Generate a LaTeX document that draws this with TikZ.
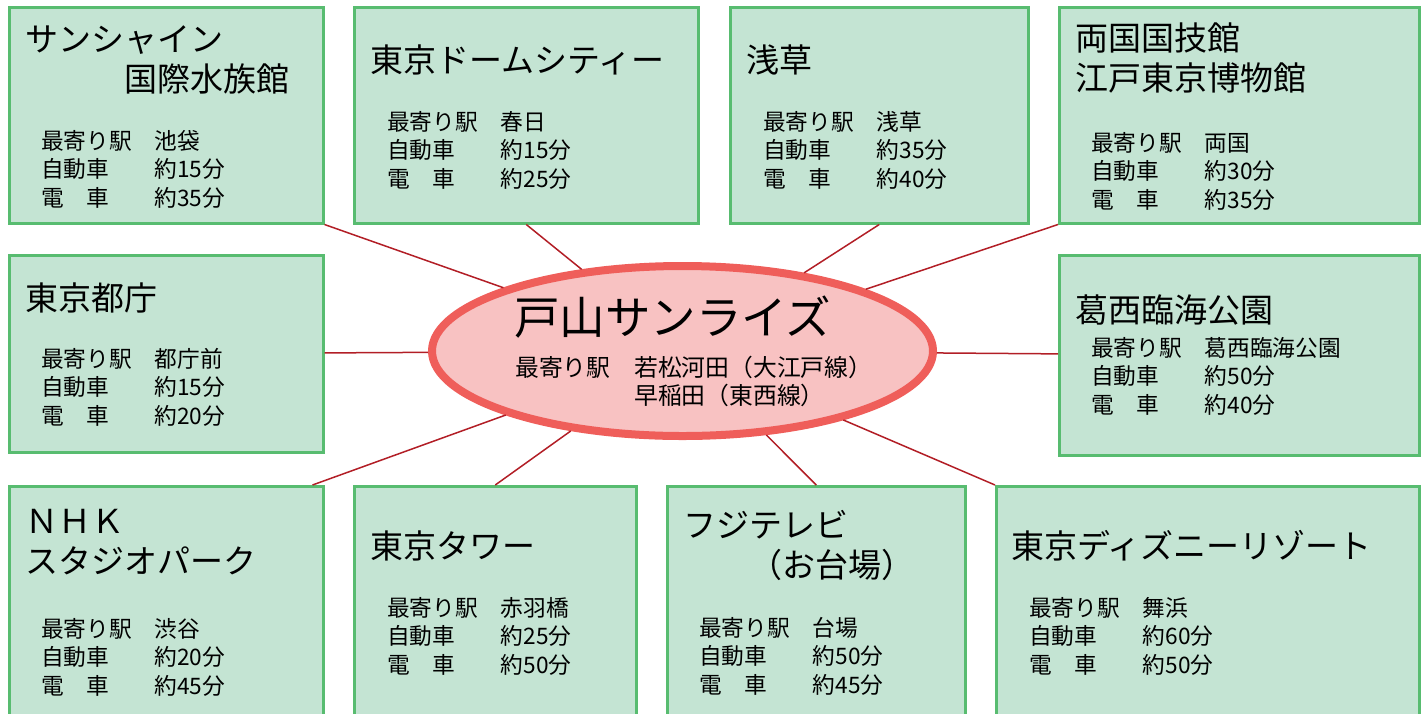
\documentclass[tikz,border=0pt]{standalone}
\usepackage{fontspec}
\setmainfont{Noto Sans CJK JP}
\usetikzlibrary{shapes.geometric}

\definecolor{boxfill}{RGB}{196,228,211}
\definecolor{boxline}{RGB}{88,188,112}
\definecolor{hubfill}{RGB}{248,194,194}
\definecolor{hubline}{RGB}{239,94,90}
\definecolor{linkred}{RGB}{178,30,38}

\begin{document}
\begin{tikzpicture}[x=1pt,y=-1pt]

\tikzset{
  box_s/.style = {rectangle, anchor=north west, fill=boxfill, draw=boxline,
    line width=2.5pt, inner sep=0pt},
  hub_s/.style = {ellipse, fill=hubfill, draw=hubline, line width=8pt,
    minimum width=501pt, minimum height=170pt, inner sep=0pt},
  ttl_s/.style = {anchor=west, align=left, inner sep=0pt,
    font=\fontsize{33}{40}\selectfont},
  det_s/.style = {anchor=west, align=left, inner sep=0pt,
    font=\fontsize{22.7}{28.5}\selectfont},
  link_s/.style = {draw=linkred, line width=1.5pt}
}

\useasboundingbox (0,0) rectangle (1426,713);
\clip (0,0) rectangle (1426,713);

% boxes
\node [box_s, minimum width=314pt, minimum height=216pt] (sunshine) at (8,6) {};
\node [box_s, minimum width=344pt, minimum height=216pt] (dome) at (353,6) {};
\node [box_s, minimum width=298pt, minimum height=216pt] (asakusa) at (729,6) {};
\node [box_s, minimum width=360pt, minimum height=216pt] (ryogoku) at (1058,6) {};
\node [box_s, minimum width=314pt, minimum height=197pt] (tocho) at (8,254) {};
\node [box_s, minimum width=360pt, minimum height=200pt] (kasai) at (1058,254) {};
\node [box_s, minimum width=314pt, minimum height=240pt] (nhk) at (8,485) {};
\node [box_s, minimum width=282pt, minimum height=240pt] (tower) at (353,485) {};
\node [box_s, minimum width=298pt, minimum height=240pt] (fuji) at (666,485) {};
\node [box_s, minimum width=423pt, minimum height=240pt] (disney) at (995,485) {};

% centre
\node [hub_s] (hub) at (682.5,351) {};

% links
\draw [link_s] (sunshine.south east) -- (hub);
\draw [link_s] (dome.south) -- (hub);
\draw [link_s] (asakusa.south) -- (hub);
\draw [link_s] (ryogoku.south west) -- (hub);
\draw [link_s] (tocho) -- (hub);
\draw [link_s] (kasai) -- (hub);
\draw [link_s] ([xshift=-12pt]nhk.north east) -- (hub);
\draw [link_s] (tower.north) -- (hub);
\draw [link_s] (fuji.north) -- (hub);
\draw [link_s] (disney.north west) -- (hub);

% texts
\node [ttl_s] (sunshine_t) at (25,60) {サンシャイン\\　　　国際水族館};
\node [det_s] (sunshine_d) at (41,169) {最寄り駅　池袋\\自動車　　約15分\\電　車　　約35分};

\node [ttl_s] (dome_t) at (370,60) {東京ドームシティー};
\node [det_s] (dome_d) at (387,150) {最寄り駅　春日\\自動車　　約15分\\電　車　　約25分};

\node [ttl_s] (asakusa_t) at (746,60) {浅草};
\node [det_s] (asakusa_d) at (763,150) {最寄り駅　浅草\\自動車　　約35分\\電　車　　約40分};

\node [ttl_s] (ryogoku_t) at (1075,58) {両国国技館\\江戸東京博物館};
\node [det_s] (ryogoku_d) at (1091,171) {最寄り駅　両国\\自動車　　約30分\\電　車　　約35分};

\node [ttl_s] (tocho_t) at (25,298) {東京都庁};
\node [det_s] (tocho_d) at (41,387) {最寄り駅　都庁前\\自動車　　約15分\\電　車　　約20分};

\node [ttl_s] (kasai_t) at (1075,310) {葛西臨海公園};
\node [det_s] (kasai_d) at (1091,376) {最寄り駅　葛西臨海公園\\自動車　　約50分\\電　車　　約40分};

\node [ttl_s] (nhk_t) at (25,542) {ＮＨＫ\\スタジオパーク};
\node [det_s] (nhk_d) at (41,657) {最寄り駅　渋谷\\自動車　　約20分\\電　車　　約45分};

\node [ttl_s] (tower_t) at (370,546) {東京タワー};
\node [det_s] (tower_d) at (387,636) {最寄り駅　赤羽橋\\自動車　　約25分\\電　車　　約50分};

\node [ttl_s] (fuji_t) at (683,545) {フジテレビ\\　　（お台場）};
\node [det_s] (fuji_d) at (699,656) {最寄り駅　台場\\自動車　　約50分\\電　車　　約45分};

\node [ttl_s] (disney_t) at (1011,546) {東京ディズニーリゾート};
\node [det_s] (disney_d) at (1029,636) {最寄り駅　舞浜\\自動車　　約60分\\電　車　　約50分};

\node [anchor=west, inner sep=0pt, font=\fontsize{45.5}{50}\selectfont] (hub_t) at (514,317) {戸山サンライズ};
\node [anchor=west, align=left, inner sep=0pt, font=\fontsize{23.8}{28}\selectfont] (hub_d) at (515,381)
  {最寄り駅　若松河田（大江戸線）\\　　　　　早稲田（東西線）};

\end{tikzpicture}
\end{document}
